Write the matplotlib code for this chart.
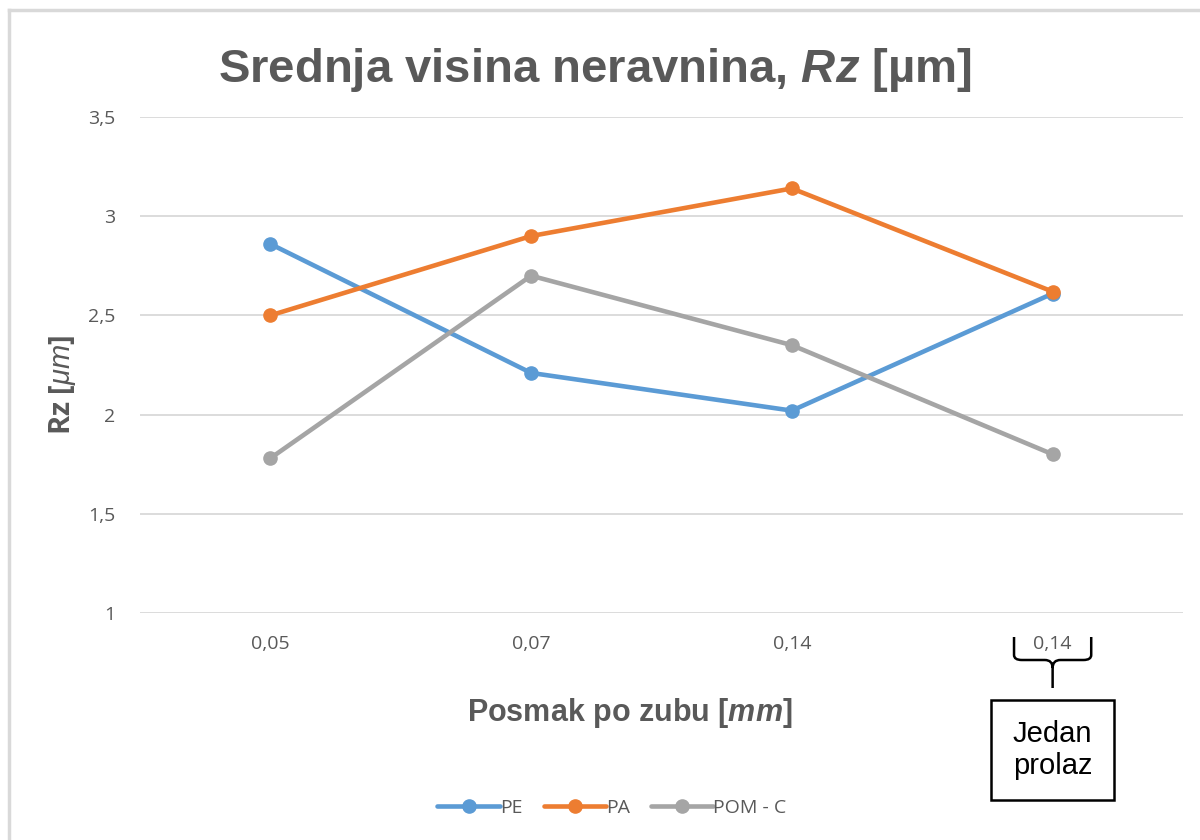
import numpy as np
import matplotlib.pyplot as plt
from matplotlib.path import Path
from matplotlib.patches import PathPatch, Rectangle
from matplotlib.lines import Line2D
import matplotlib.transforms as mtransforms

kategorije = ['0,05', '0,07', '0,14', '0,14']
pe = [2.86, 2.21, 2.02, 2.61]
pa = [2.50, 2.90, 3.14, 2.62]
pom_c = [1.78, 2.70, 2.35, 1.80]
serije = ['PE', 'PA', 'POM - C']
y_ticks = [1, 1.5, 2, 2.5, 3, 3.5]
y_tick_labels = ['1', '1,5', '2', '2,5', '3', '3,5']

boje = ['#5B9BD5', '#ED7D31', '#A5A5A5']
siva = '#595959'

plt.rcParams['mathtext.fontset'] = 'custom'
plt.rcParams['mathtext.rm'] = 'Liberation Sans'
plt.rcParams['mathtext.it'] = 'Liberation Sans:italic'
plt.rcParams['mathtext.bf'] = 'Liberation Sans:bold'
plt.rcParams['mathtext.bfit'] = 'Liberation Sans:bold:italic'

fig = plt.figure(figsize=(12, 8.4), dpi=100)
ax = fig.add_axes([140/1200, 1-613/840, 1043/1200, 496/840])

x = np.arange(len(kategorije))
for vals, ime, c in zip([pe, pa, pom_c], serije, boje):
    ax.plot(x, vals, color=c, lw=3.3, marker='o', markersize=9.5,
            label=ime, solid_capstyle='round', zorder=3)

ax.set_xlim(-0.5, len(kategorije) - 0.5)
ax.set_ylim(1, 3.5)
ax.set_yticks(y_ticks)
ax.set_yticklabels(y_tick_labels, fontsize=14, color=siva, family='Open Sans')
ax.set_xticks(x)
ax.set_xticklabels(kategorije, fontsize=14, color=siva, family='Open Sans')
ax.tick_params(length=0)
ax.tick_params(axis='y', pad=18)
ax.tick_params(axis='x', pad=16)
ax.grid(axis='y', color='#D9D9D9', lw=1.3)
ax.set_axisbelow(True)
for s in ax.spines.values():
    s.set_visible(False)

# naslovi
fig.text(595/1200, 1-70/840, 'Srednja visina neravnina, $\\mathbfit{Rz}$ [µm]',
         ha='center', va='center', fontsize=34, fontweight='bold', color=siva,
         family='Liberation Sans')
fig.text(630/1200, 1-713/840, 'Posmak po zubu [$\\mathbfit{mm}$]',
         ha='center', va='center', fontsize=22, fontweight='bold', color=siva,
         family='Liberation Sans')
fig.text(62/1200, 1-385/840, 'Rz [$\\mathit{\\mu m}$]', rotation=90,
         ha='center', va='center', fontsize=21, fontweight='bold', color=siva,
         family='Open Sans')

# legenda
ax.legend(loc='center', bbox_to_anchor=(612/1200, 1-808/840),
          bbox_transform=fig.transFigure, ncol=3, frameon=False,
          prop={'family': 'Open Sans', 'size': 14}, labelcolor=siva,
          handlelength=3.2, handletextpad=0.0, columnspacing=1.1)

# okvir grafikona (gore i lijevo)
fig.add_artist(Line2D([9/1200, 9/1200], [0, 1-10/840], transform=fig.transFigure,
                      color='#D9D9D9', lw=2.5))
fig.add_artist(Line2D([9/1200, 1], [1-10/840, 1-10/840], transform=fig.transFigure,
                      color='#D9D9D9', lw=2.5))

# viticasta zagrada ispod zadnje kategorije
tr = mtransforms.blended_transform_factory(ax.transData, fig.transFigure)
xc = x[-1]
w = 0.148
def fy(p):
    return 1 - p/840
verts = [(xc - w, fy(637)), (xc - w, fy(655)),
         (xc - w, fy(660)), (xc - w + 0.03, fy(660)),
         (xc - 0.03, fy(660)),
         (xc, fy(660)), (xc, fy(668)),
         (xc, fy(688)),
         (xc, fy(668)), (xc, fy(660)), (xc + 0.03, fy(660)),
         (xc + w - 0.03, fy(660)),
         (xc + w, fy(660)), (xc + w, fy(655)),
         (xc + w, fy(637))]
codes = [Path.MOVETO, Path.LINETO,
         Path.CURVE3, Path.CURVE3,
         Path.LINETO,
         Path.CURVE3, Path.CURVE3,
         Path.LINETO,
         Path.MOVETO, Path.CURVE3, Path.CURVE3,
         Path.LINETO,
         Path.CURVE3, Path.CURVE3,
         Path.LINETO]
fig.add_artist(PathPatch(Path(verts, codes), transform=tr, fill=False,
                         edgecolor='black', lw=1.8, clip_on=False))
fig.add_artist(Rectangle((xc - 0.235, fy(800)), 0.47, (800-700)/840, transform=tr,
                         fill=False, edgecolor='black', lw=1.8, clip_on=False))
fig.text(xc, fy(750), 'Jedan\nprolaz', transform=tr, ha='center', va='center',
         fontsize=21, family='Liberation Sans', linespacing=1.15)

fig.savefig('out.png', dpi=100)
